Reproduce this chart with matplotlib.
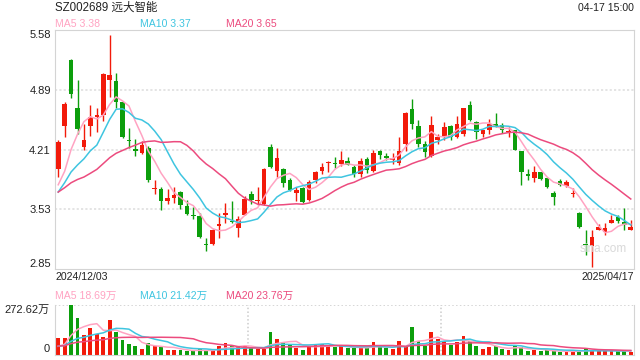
import numpy as np
import pandas as pd
import matplotlib
matplotlib.use('Agg')
import matplotlib.pyplot as plt

plt.rcParams['font.family'] = ['Liberation Sans', 'Noto Sans CJK SC']

# daily K-line 2024/12/03 .. 2025/04/17 (90 sessions)
opens = [3.99, 4.48, 5.23, 4.69, 4.24, 4.48, 4.58, 4.61, 5.01, 4.99,
         4.75, 4.32, 4.22, 4.17, 4.23, 3.76, 3.76, 3.63, 3.66, 3.73,
         3.57, 3.47, 3.45, 3.13, 3.13, 3.34, 3.46, 3.40, 3.32, 3.47,
         3.70, 3.63, 3.59, 4.24, 3.97, 3.99, 3.86, 3.72, 3.77, 3.64,
         3.86, 3.97, 4.06, 4.06, 4.05, 4.08, 4.01, 3.93, 4.10, 3.97,
         4.20, 4.14, 4.09, 4.06, 4.28, 4.67, 4.48, 4.28, 4.14, 4.32,
         4.36, 4.48, 4.35, 4.39, 4.72, 4.53, 4.39, 4.43, 4.50, 4.49,
         4.41, 4.43, 4.19, 3.93, 3.89, 3.95, 3.89, 3.72, 3.85, 3.80,
         3.70, 3.49, 3.13, 3.11, 3.29, 3.27, 3.38, 3.44, 3.39, 3.30]
highs = [4.32, 4.75, 5.24, 5.00, 4.50, 4.72, 4.69, 5.08, 5.52, 5.08,
         4.75, 4.46, 4.33, 4.31, 4.25, 3.87, 3.78, 3.76, 3.79, 3.74,
         3.64, 3.56, 3.49, 3.20, 3.31, 3.49, 3.60, 3.62, 3.45, 3.68,
         3.74, 3.78, 4.00, 4.28, 4.23, 4.00, 3.89, 3.78, 3.78, 3.87,
         3.97, 4.06, 4.08, 4.13, 4.19, 4.13, 4.03, 4.12, 4.13, 4.21,
         4.21, 4.17, 4.17, 4.35, 4.64, 4.79, 4.55, 4.31, 4.59, 4.39,
         4.53, 4.49, 4.59, 4.69, 4.76, 4.54, 4.44, 4.56, 4.63, 4.51,
         4.47, 4.44, 4.20, 3.99, 4.02, 3.96, 3.89, 3.74, 3.88, 3.87,
         3.77, 3.50, 3.30, 3.29, 3.36, 3.38, 3.46, 3.46, 3.55, 3.41]
lows = [3.90, 4.35, 4.80, 4.39, 4.21, 4.37, 4.41, 4.54, 4.81, 4.69,
        4.34, 4.23, 4.14, 4.16, 3.84, 3.70, 3.52, 3.59, 3.60, 3.53,
        3.47, 3.42, 3.20, 3.05, 3.12, 3.20, 3.37, 3.37, 3.22, 3.46,
        3.59, 3.58, 3.58, 4.00, 3.90, 3.79, 3.74, 3.63, 3.60, 3.63,
        3.83, 3.93, 3.96, 4.00, 4.02, 4.03, 3.90, 3.90, 3.94, 3.96,
        4.10, 4.09, 4.05, 4.03, 4.19, 4.45, 4.24, 4.13, 4.13, 4.28,
        4.32, 4.32, 4.34, 4.37, 4.54, 4.33, 4.35, 4.39, 4.47, 4.40,
        4.35, 4.21, 3.81, 3.87, 3.84, 3.86, 3.77, 3.58, 3.80, 3.79,
        3.67, 3.32, 3.01, 2.87, 3.29, 3.24, 3.37, 3.37, 3.29, 3.29]
closes = [4.30, 4.73, 4.85, 4.45, 4.32, 4.58, 4.60, 5.07, 5.06, 4.75,
          4.35, 4.31, 4.19, 4.26, 3.86, 3.77, 3.63, 3.66, 3.69, 3.58,
          3.48, 3.45, 3.21, 3.12, 3.29, 3.36, 3.49, 3.39, 3.42, 3.65,
          3.64, 3.64, 3.99, 4.01, 4.12, 3.83, 3.75, 3.75, 3.61, 3.84,
          3.96, 4.01, 4.07, 4.05, 4.09, 4.03, 3.93, 4.08, 3.98, 4.17,
          4.15, 4.12, 4.12, 4.19, 4.63, 4.50, 4.28, 4.18, 4.49, 4.36,
          4.47, 4.36, 4.50, 4.68, 4.55, 4.41, 4.43, 4.50, 4.48, 4.44,
          4.42, 4.21, 3.96, 3.91, 3.96, 3.88, 3.78, 3.67, 3.81, 3.84,
          3.71, 3.33, 3.12, 3.22, 3.33, 3.32, 3.41, 3.40, 3.35, 3.33]
# volume, unit: 万 shares
volumes = [89.7, 89.7, 272.62, 201.3, 106.1, 146.4, 113.4, 95.1, 188.5, 122.6,
           78.7, 56.7, 45.7, 29.3, 60.4, 45.7, 40.3, 23.8, 23.8, 23.8,
           18.3, 18.3, 29.3, 20.1, 23.8, 43.9, 60.4, 43.9, 43.9, 45.7,
           34.8, 29.3, 29.3, 122.6, 84.2, 62.2, 53.1, 36.6, 23.8, 45.7,
           53.1, 58.2, 45.4, 40.0, 45.4, 34.5, 34.5, 34.5, 34.5, 67.2,
           41.8, 34.5, 29.1, 72.7, 41.8, 149.0, 72.7, 45.4, 121.8, 83.6,
           74.5, 50.9, 67.2, 100.0, 72.7, 45.4, 29.1, 40.0, 45.4, 29.1,
           23.6, 45.4, 40.0, 18.2, 23.6, 18.2, 23.6, 18.2, 12.7, 12.7,
           20.0, 23.6, 29.1, 23.6, 18.2, 20.0, 19.0, 19.0, 20.0, 15.0]
# sessions before the window, only feed the moving averages
prior_close = [3.74, 3.72, 3.70, 3.76, 3.73, 3.71, 3.75, 3.72, 3.74, 3.70,
               3.66, 3.63, 3.65, 3.62, 3.66, 3.96, 3.61, 3.58, 3.60]
prior_vol = [47, 48, 46, 47, 49, 46, 47, 48, 46, 47,
             45, 44, 46, 45, 45, 35, 33, 35, 32]

start_date, end_date = '2024/12/03', '2025/04/17'
price_ticks = [2.85, 3.53, 4.21, 4.89, 5.58]
vol_top = 272.62

UP, DOWN = '#f21a0a', '#0c9e0c'
MA_COLORS = {5: '#ffa3c2', 10: '#3fc5e0', 20: '#ec4b7e'}


def ma(values, prior, n):
    s = pd.Series(list(prior) + list(values)).rolling(n).mean()
    return s.to_numpy()[len(prior):]


x = np.arange(len(closes))
o, h, l, c = map(np.array, (opens, highs, lows, closes))
cols = [UP if cc >= oo else DOWN for oo, cc in zip(o, c)]

W, H = 640, 360
fig = plt.figure(figsize=(6.4, 3.6), dpi=100)
ax = fig.add_axes([55 / W, 1 - 269 / H, 579 / W, 239.5 / H])
axv = fig.add_axes([55 / W, 1 - 354.5 / H, 579 / W, 50 / H])

## price panel
for v in price_ticks[1:-1]:
    ax.axhline(v, color='#e2e2e2', lw=1.3, ls=(0, (1.2, 1.2)), zorder=0)
ax.vlines(x, l, h, colors=cols, lw=1, zorder=2)
body = np.maximum(np.abs(c - o), 0.012)
ax.bar(x, body, bottom=np.minimum(o, c), width=0.72, color=cols, lw=0, zorder=3)
for n, col in MA_COLORS.items():
    ax.plot(x, ma(closes, prior_close, n), color=col, lw=1.1, zorder=4)

ax.set_xlim(-0.5, len(x) - 0.5)
ax.set_ylim(price_ticks[0], price_ticks[-1])
ax.set_xticks([])
ax.set_yticks(price_ticks)
ax.set_yticklabels([f'{v:.2f}' for v in price_ticks])
ax.tick_params(axis='y', length=0, pad=3, labelsize=8, labelcolor='#222222')
labs = ax.get_yticklabels()
labs[0].set_va('bottom')
labs[-1].set_va('top')
for s in ax.spines.values():
    s.set_color('#d4d4d4')

## volume panel
axv.axhline(vol_top, color='#cccccc', lw=1.1, ls=(0, (1, 1.5)), zorder=0)
for xv in (len(x) / 3 - 0.5, 2 * len(x) / 3 - 0.5):
    axv.axvline(xv, color='#cccccc', lw=1.1, ls=(0, (1, 1.5)), zorder=0)
axv.bar(x, volumes, width=0.6, color=cols, lw=0, zorder=2)
for n, col in MA_COLORS.items():
    axv.plot(x, ma(volumes, prior_vol, n), color=col, lw=1.1, zorder=3)
axv.set_xlim(-0.5, len(x) - 0.5)
axv.set_ylim(0, vol_top)
axv.set_xticks([])
axv.set_yticks([0, vol_top])
axv.set_yticklabels(['0', f'{vol_top:.2f}万'])
axv.tick_params(axis='y', length=0, pad=4, labelsize=8, labelcolor='#222222')
vl = axv.get_yticklabels()
vl[0].set_va('bottom')
vl[1].set_va('top')
axv.spines['top'].set_visible(False)
for k in ('left', 'right', 'bottom'):
    axv.spines[k].set_color('#d4d4d4')

## texts
def ftext(px, py, s, **kw):
    fig.text(px / W, 1 - py / H, s, va='center', **kw)

ftext(55, 8, 'SZ002689 远大智能', fontsize=8.3, color='#222222')
ftext(634, 8, '04-17 15:00', fontsize=7.6, color='#222222', ha='right')
ftext(55, 24, 'MA5 3.38', fontsize=7.6, color=MA_COLORS[5])
ftext(140.5, 24, 'MA10 3.37', fontsize=7.6, color=MA_COLORS[10])
ftext(225.5, 24, 'MA20 3.65', fontsize=7.6, color=MA_COLORS[20])
ftext(55, 277, start_date, fontsize=7.6, color='#222222')
ftext(634, 277, end_date, fontsize=7.6, color='#222222', ha='right')
ftext(55, 296, 'MA5 18.69万', fontsize=7.6, color=MA_COLORS[5])
ftext(140.5, 296, 'MA10 21.42万', fontsize=7.6, color=MA_COLORS[10])
ftext(225.5, 296, 'MA20 23.76万', fontsize=7.6, color=MA_COLORS[20])
ftext(603, 249, 'sina.com', fontsize=8.5, color='#d9d9d9', ha='center')

fig.savefig('out.png', dpi=100)
